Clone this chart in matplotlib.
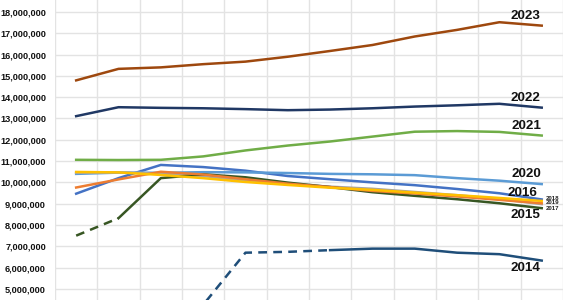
import matplotlib.pyplot as plt
import numpy as np

months = list(range(12))

# values in millions
y2014 = [np.nan, np.nan, np.nan, 4.25, 6.70, 6.74, 6.82, 6.89, 6.89, 6.70, 6.63, 6.33]
y2015 = [7.50, 8.32, 10.20, 10.38, 10.24, 9.99, 9.78, 9.54, 9.37, 9.21, 9.02, 8.79]
y2016 = [9.47, 10.20, 10.82, 10.72, 10.55, 10.30, 10.15, 10.00, 9.87, 9.69, 9.49, 9.20]
y2017 = [10.45, 10.47, 10.42, 10.30, 10.08, 9.92, 9.80, 9.70, 9.55, 9.40, 9.22, 8.98]
y2018 = [10.49, 10.47, 10.35, 10.20, 10.02, 9.88, 9.75, 9.65, 9.52, 9.40, 9.27, 9.13]
y2019 = [9.76, 10.14, 10.50, 10.37, 10.15, 9.94, 9.78, 9.60, 9.48, 9.34, 9.18, 9.02]
y2020 = [10.40, 10.46, 10.45, 10.48, 10.47, 10.44, 10.40, 10.38, 10.34, 10.20, 10.08, 9.92]
y2021 = [11.06, 11.05, 11.06, 11.22, 11.50, 11.73, 11.92, 12.15, 12.38, 12.41, 12.37, 12.20]
y2022 = [13.11, 13.53, 13.50, 13.48, 13.44, 13.39, 13.42, 13.48, 13.56, 13.62, 13.69, 13.51]
y2023 = [14.79, 15.33, 15.40, 15.55, 15.67, 15.90, 16.17, 16.45, 16.85, 17.16, 17.52, 17.36]

yticks = [5, 6, 7, 8, 9, 10, 11, 12, 13, 14, 15, 16, 17, 18]

fig = plt.figure(figsize=(5.7, 3.0), dpi=100)
ax = fig.add_axes([0.0965, 0.0, 0.891, 1.0])

x = np.array(months)
m = 1e6


def draw(vals, color, dash_until=None, lw=1.8, z=2):
    v = np.array(vals) * m
    if dash_until is None:
        ax.plot(x, v, color=color, lw=lw, zorder=z)
    else:
        ax.plot(x[:dash_until + 1], v[:dash_until + 1], color=color, lw=lw,
                ls=(0, (3.5, 2.5)), zorder=z)
        ax.plot(x[dash_until:], v[dash_until:], color=color, lw=lw, zorder=z)


draw(y2014, "#1f4e79", dash_until=6)
draw(y2016, "#4472c4")
draw(y2020, "#5b9bd5")
draw(y2017, "#a5a5a5")
draw(y2015, "#375623", dash_until=1, z=3)
draw(y2019, "#ed7d31", z=3)
draw(y2018, "#ffc000", z=3)
draw(y2021, "#70ad47")
draw(y2022, "#203864")
draw(y2023, "#9e480e")

ax.set_xlim(-0.5, 11.5)
ax.set_ylim(4.479 * m, 18.563 * m)
ax.set_xticks(np.arange(-0.5, 12, 1), minor=True)
ax.set_xticks([])
ax.set_yticks([t * m for t in yticks])
ax.set_yticklabels([f"{t * 1000000:,}" for t in yticks], fontsize=6.6,
                   fontweight="bold", family="Liberation Sans", color="#111111")
ax.tick_params(axis="y", length=0, pad=6.5)
ax.tick_params(axis="x", which="minor", length=0)
ax.grid(True, axis="y", color="#e3e3e3", lw=1)
ax.grid(True, axis="x", which="minor", color="#e3e3e3", lw=1)
ax.set_axisbelow(True)
for s in ax.spines.values():
    s.set_visible(False)

big = dict(fontsize=9.6, fontweight="bold", family="Liberation Sans",
           ha="center", va="center", color="#111111")
small = dict(fontsize=4.4, fontweight="bold", family="Liberation Sans",
             ha="center", va="center", color="#222222")


def lab(px, py, text, style):
    # label positions in figure pixels
    fig.text(px / 570, 1 - py / 300, text, **style)


lab(525, 16, "2023", big)
lab(525, 98, "2022", big)
lab(526, 126, "2021", big)
lab(526, 174, "2020", big)
lab(522, 193, "2016", big)
lab(525, 215, "2015", big)
lab(525, 268, "2014", big)
lab(553, 198, "2018", small)
lab(553, 203, "2019", small)
lab(553, 208.5, "2017", small)

fig.savefig("out.png", dpi=100)
